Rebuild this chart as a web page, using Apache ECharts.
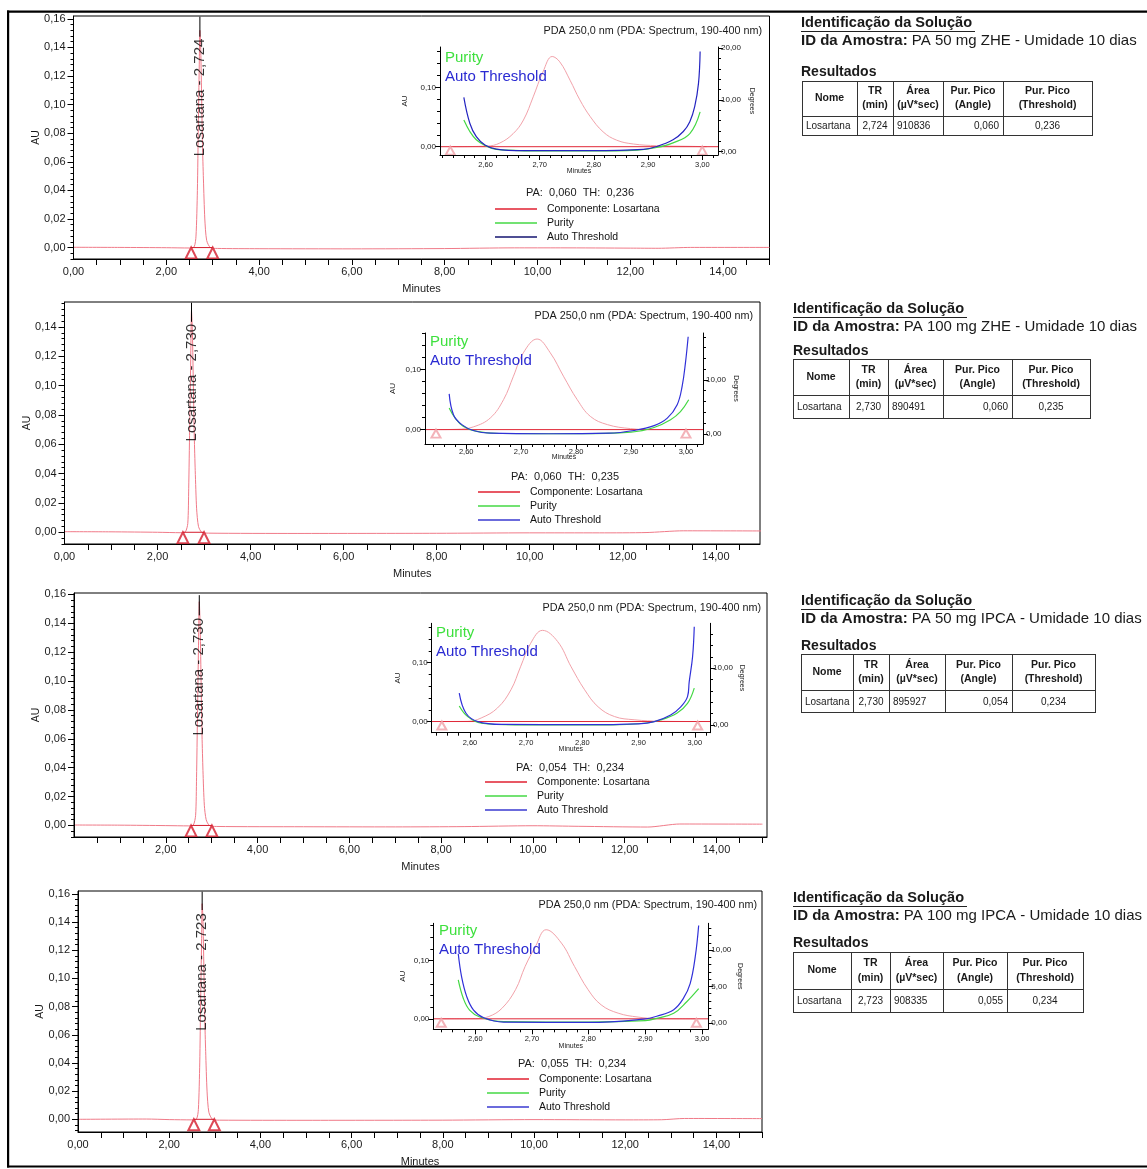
<!DOCTYPE html>
<html><head><meta charset="utf-8">
<script src="https://cdn.jsdelivr.net/npm/echarts@6/dist/echarts.min.js"></script>
<style>html,body{margin:0;padding:0;background:#fff}#c{width:1147px;height:1169px}</style>
</head><body><div id="c"></div>
<script>
// ================= DATA =================
const sampleIds = ['PA 50 mg ZHE - Umidade 10 dias', 'PA 100 mg ZHE - Umidade 10 dias', 'PA 50 mg IPCA - Umidade 10 dias', 'PA 100 mg IPCA - Umidade 10 dias'];
const compoundName = 'Losartana';
const retentionTimes = [2.724, 2.730, 2.730, 2.723];
const peakAreas = [910836, 890491, 895927, 908335];
const purityAngles = [0.060, 0.060, 0.054, 0.055];
const purityThresholds = [0.236, 0.235, 0.234, 0.234];
const integrationStart = [2.535, 2.545, 2.55, 2.54];
const integrationEnd = [3.00, 3.00, 3.005, 2.99];

const mainXLabelValues = [0, 2, 4, 6, 8, 10, 12, 14];
const mainYLabelValues = [0, 0.02, 0.04, 0.06, 0.08, 0.10, 0.12, 0.14, 0.16];
const insetXLabelValues = [2.6, 2.7, 2.8, 2.9, 3.0];
const insetAULabelValues = [0, 0.10];
const degLabelValues = [[0, 10, 20], [0, 10], [0, 10], [0, 5, 10]];
const tableHeaders = [['Nome'], ['TR', '(min)'], ['Área', '(µV*sec)'], ['Pur. Pico', '(Angle)'], ['Pur. Pico', '(Threshold)']];

// main chromatograms (minutes, AU)
const chrom1 = [[0,0.0002],[1.0,0.0001],[2.0,-0.0001],[2.5,-0.0003],[2.6,0.0005],[2.64,0.008],[2.67,0.04],[2.69,0.085],[2.71,0.127],[2.724,0.152],[2.74,0.142],[2.76,0.108],[2.78,0.072],[2.80,0.048],[2.83,0.02],[2.87,0.005],[2.95,0.0],[3.1,-0.0006],[4,-0.0008],[6,-0.0009],[8,-0.0007],[9.5,-0.0002],[10.5,-0.0002],[12,-0.0004],[12.6,-0.0005],[13.3,0.0001],[15,0.0001]];
const chrom2 = [[0,0.0004],[1,0.0003],[2,0.0],[2.5,-0.0003],[2.6,0.0004],[2.65,0.006],[2.67,0.03],[2.69,0.07],[2.71,0.11],[2.73,0.151],[2.75,0.135],[2.77,0.10],[2.79,0.065],[2.81,0.042],[2.84,0.016],[2.88,0.004],[2.95,0.0],[3.1,-0.0006],[5,-0.0008],[8,-0.0007],[10,-0.0004],[11.5,-0.0004],[12.5,-0.0002],[13.3,0.0010],[15,0.0009]];
const chrom3 = [[0,0.0003],[1,0.0002],[2,-0.0001],[2.5,-0.0003],[2.6,0.0003],[2.65,0.007],[2.67,0.033],[2.69,0.075],[2.71,0.118],[2.73,0.155],[2.75,0.136],[2.77,0.098],[2.79,0.062],[2.81,0.038],[2.84,0.014],[2.88,0.004],[2.95,0.0],[3.1,-0.0007],[5,-0.0009],[7,-0.001],[8.5,-0.0008],[10,-0.0002],[11,-0.0006],[12.5,-0.0011],[13.2,0.0010],[15,0.0009]];
const chrom4 = [[0,0.0],[1.5,0.0002],[2,-0.0002],[2.5,-0.0004],[2.6,0.0003],[2.64,0.007],[2.67,0.04],[2.69,0.085],[2.71,0.125],[2.723,0.153],[2.74,0.142],[2.76,0.108],[2.78,0.072],[2.80,0.048],[2.83,0.02],[2.87,0.005],[2.95,0.0],[3.1,-0.0006],[5,-0.0007],[8,-0.0006],[10,-0.0002],[12,-0.0004],[12.8,-0.0003],[13.3,0.0006],[15,0.0005]];

// inset: component peak (AU)
const insetPeak1 = [[2.54,0],[2.602,0.001],[2.626,0.006],[2.651,0.022],[2.670,0.045],[2.688,0.084],[2.706,0.126],[2.723,0.152],[2.737,0.143],[2.756,0.112],[2.774,0.079],[2.793,0.051],[2.817,0.025],[2.842,0.011],[2.873,0.0045],[2.916,0.0017],[2.977,0.0006],[3.008,0]];
const insetPeak2 = [[2.55,0],[2.583,0.0005],[2.613,0.0045],[2.644,0.0195],[2.668,0.05],[2.686,0.089],[2.704,0.128],[2.729,0.151],[2.753,0.128],[2.777,0.089],[2.802,0.05],[2.826,0.022],[2.857,0.0083],[2.899,0.0017],[2.942,0],[3.0,0]];
const insetPeak3 = [[2.55,0],[2.596,0.0003],[2.620,0.006],[2.649,0.023],[2.673,0.054],[2.690,0.093],[2.708,0.133],[2.729,0.155],[2.756,0.136],[2.780,0.093],[2.804,0.054],[2.828,0.025],[2.857,0.0085],[2.892,0.003],[2.94,0.0005],[3.0,0]];
const insetPeak4 = [[2.543,0],[2.60,0.0003],[2.624,0.004],[2.647,0.018],[2.671,0.05],[2.688,0.09],[2.706,0.124],[2.725,0.153],[2.752,0.13],[2.775,0.09],[2.799,0.05],[2.822,0.024],[2.852,0.0097],[2.887,0.003],[2.92,0.0005],[2.99,0]];

// inset: purity angle (degrees)
const purity1 = [[2.560,6.1],[2.571,3.9],[2.583,2.3],[2.599,1.2],[2.620,0.45],[2.700,0.15],[2.793,0.13],[2.880,0.3],[2.916,0.8],[2.946,1.7],[2.977,3.5],[2.996,7.7]];
const purity2 = [[2.569,4.8],[2.580,2.9],[2.595,1.35],[2.619,0.43],[2.66,0.05],[2.80,0.0],[2.90,0.3],[2.942,1.17],[2.972,2.6],[2.990,4.1],[3.005,6.3]];
const purity3 = [[2.581,3.35],[2.596,1.47],[2.620,0.3],[2.68,0.0],[2.85,0.0],[2.91,0.3],[2.939,0.88],[2.968,2.06],[2.987,3.8],[2.999,6.5]];
const purity4 = [[2.570,5.9],[2.579,3.35],[2.590,1.75],[2.608,0.8],[2.65,0.15],[2.80,0.1],[2.90,0.3],[2.920,0.6],[2.950,1.3],[2.973,2.9],[2.994,4.7]];

// inset: auto threshold (degrees)
const threshold1 = [[2.560,10.5],[2.571,5.5],[2.583,2.9],[2.599,1.3],[2.620,0.5],[2.670,0.2],[2.793,0.2],[2.891,0.45],[2.916,1.0],[2.946,2.3],[2.965,3.9],[2.977,5.8],[2.986,8.7],[2.993,13.2],[2.996,19.4]];
const threshold2 = [[2.569,7.4],[2.577,3.5],[2.592,1.7],[2.613,0.6],[2.644,0.1],[2.75,0.0],[2.86,0.1],[2.905,0.6],[2.942,1.5],[2.966,2.9],[2.984,5.4],[2.993,8.8],[2.999,13.1],[3.004,18.0]];
const threshold3 = [[2.581,5.6],[2.593,2.06],[2.614,0.6],[2.658,0.1],[2.80,0.05],[2.90,0.2],[2.928,0.6],[2.957,1.76],[2.975,3.2],[2.987,5.0],[2.990,7.6],[2.996,12.0],[2.999,17.3]];
const threshold4 = [[2.570,9.5],[2.576,6.3],[2.585,3.6],[2.597,1.75],[2.615,0.7],[2.65,0.1],[2.80,0.05],[2.897,0.5],[2.920,0.9],[2.950,1.8],[2.967,3.35],[2.979,5.4],[2.988,9.1],[2.994,13.4]];

const chroms = [chrom1, chrom2, chrom3, chrom4];
const insetPeaks = [insetPeak1, insetPeak2, insetPeak3, insetPeak4];
const purities = [purity1, purity2, purity3, purity4];
const thresholds = [threshold1, threshold2, threshold3, threshold4];

// ================= LAYOUT =================
const layout = [
 {main:{left:73.5,top:16,width:696,height:243,ymin:-0.008,ymax:0.162,xmax:15,showZero:true},
  peakLabel:{y:0.105,lineFrom:0.1475,lineTo:0.1615},
  inset:{left:440,top:47,width:278,height:108,xmin:2.516,xmax:3.029,aumin:-0.014,aumax:0.168,dmin:-0.65,dmax:20.25,degStep:2,auGap:31,degGap:30,xMargin:6,xNameGap:13},
  title:{x:762,y:31}, tag:{x:445,y1:58,y2:77}, pa:{x:580,y:193}, legend:{x:495,y:209},
  table:{x:801,identY:23,idY:41,resY:72,top:81,mid:116,bottom:135,cols:[802,857,893,943,1003,1092]},
  blue:'#2424c0', legendBlue:'#141470'},
 {main:{left:64.5,top:302,width:695.5,height:242,ymin:-0.008,ymax:0.157,xmax:14.95,showZero:true},
  peakLabel:{y:0.102,lineFrom:0.1435,lineTo:0.1565},
  inset:{left:425,top:333,width:278,height:111,xmin:2.525,xmax:3.031,aumin:-0.024,aumax:0.161,dmin:-1.9,dmax:18.7,degStep:2,auGap:28,degGap:29,xMargin:4,xNameGap:10},
  title:{x:753,y:316}, tag:{x:430,y1:342,y2:361}, pa:{x:565,y:477}, legend:{x:478,y:492},
  table:{x:793,identY:309,idY:327,resY:351,top:359,mid:395,bottom:418,cols:[793,849,888,943,1012,1090]},
  blue:'#3030d8', legendBlue:'#3a3ad0'},
 {main:{left:74,top:593,width:693,height:244,ymin:-0.008,ymax:0.161,xmax:15.1,showZero:false},
  peakLabel:{y:0.103,lineFrom:0.1455,lineTo:0.1595},
  inset:{left:431.7,top:623.3,width:278.3,height:109.4,xmin:2.532,xmax:3.027,aumin:-0.019,aumax:0.167,dmin:-1.36,dmax:17.9,degStep:2,auGap:30,degGap:28,xMargin:6,xNameGap:13},
  title:{x:761,y:608}, tag:{x:436,y1:633,y2:652}, pa:{x:570,y:768}, legend:{x:485,y:782},
  table:{x:801,identY:601,idY:619,resY:646,top:654,mid:690,bottom:712,cols:[801,853,889,945,1012,1095]},
  blue:'#3030d8', legendBlue:'#3a3ad0'},
 {main:{left:78,top:891,width:684,height:241,ymin:-0.009,ymax:0.162,xmax:15,showZero:true},
  peakLabel:{y:0.1045,lineFrom:0.1485,lineTo:0.1615},
  inset:{left:433.3,top:923.3,width:275,height:106,xmin:2.526,xmax:3.011,aumin:-0.018,aumax:0.164,dmin:-0.9,dmax:13.7,degStep:1,auGap:27,degGap:28,xMargin:6,xNameGap:13},
  title:{x:757,y:905}, tag:{x:439,y1:931,y2:950}, pa:{x:572,y:1064}, legend:{x:487,y:1079},
  table:{x:793,identY:898,idY:916,resY:943,top:952,mid:989,bottom:1012,cols:[793,851,890,943,1007,1083]},
  blue:'#3030d8', legendBlue:'#3a3ad0'}
];

const FONT = '"Liberation Sans", Arial, Helvetica, sans-serif';
const TXT = '#1a1a1a';
const comma = (v, d) => v.toFixed(d).replace('.', ',');
function steps(a, b, s) { const r = []; const n = Math.round((b - a) / s); for (let k = 0; k <= n; k++) r.push(+(a + k * s).toFixed(5)); return r; }
function within(arr, lo, hi) { return arr.filter(v => v >= lo - 1e-9 && v <= hi + 1e-9); }
function notIn(arr, ex) { return arr.filter(v => !ex.some(e => Math.abs(e - v) < 1e-7)); }

function axis(p) {
  return {
    type: 'value', gridIndex: p.grid, min: p.min, max: p.max, position: p.pos,
    splitLine: {show: false}, splitArea: {show: false},
    axisLine: {show: p.line !== false, onZero: false, lineStyle: {color: '#000', width: 1}},
    axisTick: p.ticks ? {show: true, inside: false, length: p.tickLen || 5, customValues: p.ticks, lineStyle: {color: '#000', width: 1}} : {show: false},
    axisLabel: p.labels ? {show: true, customValues: p.labels, formatter: p.fmt, fontSize: p.fs || 11, margin: p.margin || 7, color: TXT, fontFamily: FONT, showMinLabel: true, showMaxLabel: true, hideOverlap: false} : {show: false},
    name: p.name || '', nameLocation: 'middle', nameGap: p.nameGap || 20, nameRotate: p.nameRotate,
    nameMoveOverlap: false,
    nameTextStyle: {fontSize: p.nameSize || 11, color: TXT, fontFamily: FONT},
    silent: true, z: 5
  };
}

const option = {animation: false, backgroundColor: '#ffffff', grid: [], xAxis: [], yAxis: [], series: [], legend: [], graphic: []};
const G = option.graphic;
function text(x, y, t, st) { G.push({type: 'text', x: x, y: y, silent: true, z: 50, style: Object.assign({text: t, fill: TXT, fontFamily: FONT, fontSize: 11, align: 'left', verticalAlign: 'middle'}, st || {})}); }
function hline(x1, x2, y, w, c) { G.push({type: 'line', silent: true, z: 50, shape: {x1: x1, y1: y, x2: x2, y2: y}, style: {stroke: c || '#000', lineWidth: w || 1}}); }
function vline(x, y1, y2, w, c) { G.push({type: 'line', silent: true, z: 50, shape: {x1: x, y1: y1, x2: x, y2: y2}, style: {stroke: c || '#000', lineWidth: w || 1}}); }

for (let i = 0; i < 4; i++) {
  const L = layout[i], M = L.main, I = L.inset;
  const rt = retentionTimes[i];
  // ---------- grids ----------
  const gMain = option.grid.length;
  option.grid.push({left: M.left, top: M.top, width: M.width, height: M.height, show: true, borderColor: '#000', borderWidth: 1, backgroundColor: 'transparent', containLabel: false, outerBoundsMode: 'none'});
  const gIn = option.grid.length;
  option.grid.push({left: I.left, top: I.top, width: I.width, height: I.height, show: false, containLabel: false, outerBoundsMode: 'none'});

  // ---------- main axes ----------
  const xMain = option.xAxis.length;
  option.xAxis.push(axis({grid: gMain, min: 0, max: M.xmax, pos: 'bottom',
    ticks: within(steps(0, 15, 0.5), 0.01, M.xmax), tickLen: 6,
    labels: M.showZero ? mainXLabelValues : mainXLabelValues.filter(v => v > 0), fmt: v => comma(v, 2), fs: 11, margin: 7,
    name: 'Minutes', nameGap: 24, nameSize: 11}));
  const yMain = option.yAxis.length;
  const yLab = within(mainYLabelValues, M.ymin, M.ymax);
  option.yAxis.push(axis({grid: gMain, min: M.ymin, max: M.ymax, pos: 'left',
    ticks: yLab, tickLen: 6, labels: yLab, fmt: v => comma(v, 2), fs: 11, margin: 8,
    name: 'AU', nameGap: 32, nameSize: 10.5, nameRotate: 90}));
  option.yAxis.push(axis({grid: gMain, min: M.ymin, max: M.ymax, pos: 'left', line: false,
    ticks: notIn(within(steps(-0.008, 0.164, 0.004), M.ymin, M.ymax), yLab), tickLen: 3}));

  // ---------- inset axes ----------
  const xIn = option.xAxis.length;
  option.xAxis.push(axis({grid: gIn, min: I.xmin, max: I.xmax, pos: 'bottom',
    ticks: insetXLabelValues, tickLen: 5, labels: insetXLabelValues, fmt: v => comma(v, 2), fs: 7.5, margin: I.xMargin,
    name: 'Minutes', nameGap: I.xNameGap, nameSize: 7}));
  option.xAxis.push(axis({grid: gIn, min: I.xmin, max: I.xmax, pos: 'bottom', line: false,
    ticks: notIn(within(steps(2.50, 3.04, 0.02), I.xmin, I.xmax), insetXLabelValues), tickLen: 3}));
  const yAU = option.yAxis.length;
  option.yAxis.push(axis({grid: gIn, min: I.aumin, max: I.aumax, pos: 'left',
    ticks: insetAULabelValues, tickLen: 5, labels: insetAULabelValues, fmt: v => comma(v, 2), fs: 8, margin: 4,
    name: 'AU', nameGap: I.auGap, nameSize: 8, nameRotate: 90}));
  option.yAxis.push(axis({grid: gIn, min: I.aumin, max: I.aumax, pos: 'left', line: false,
    ticks: notIn(within(steps(0, 0.16, 0.02), I.aumin, I.aumax), insetAULabelValues), tickLen: 3}));
  const yDeg = option.yAxis.length;
  option.yAxis.push(axis({grid: gIn, min: I.dmin, max: I.dmax, pos: 'right',
    ticks: degLabelValues[i], tickLen: 5, labels: degLabelValues[i], fmt: v => comma(v, 2), fs: 8, margin: 3,
    name: 'Degrees', nameGap: I.degGap, nameSize: 7, nameRotate: -90}));
  option.yAxis.push(axis({grid: gIn, min: I.dmin, max: I.dmax, pos: 'right', line: false,
    ticks: notIn(within(steps(0, 20, I.degStep), I.dmin, I.dmax), degLabelValues[i]), tickLen: 3}));

  // ---------- main series ----------
  option.series.push({type: 'line', name: 'Cromatograma', xAxisIndex: xMain, yAxisIndex: yMain, data: chroms[i],
    symbol: 'none', showSymbol: false, smooth: 0.25, lineStyle: {color: '#f07a88', width: 1}, itemStyle: {color: '#f07a88'}, z: 2, silent: true});
  option.series.push({type: 'line', name: 'Integração', xAxisIndex: xMain, yAxisIndex: yMain,
    data: [[integrationStart[i], 0], [integrationEnd[i], 0]], symbol: 'none', lineStyle: {color: '#d41c2c', width: 1}, itemStyle: {color: '#d41c2c'}, z: 3, silent: true});
  option.series.push({type: 'scatter', name: 'Marcas', xAxisIndex: xMain, yAxisIndex: yMain,
    data: [[integrationStart[i], 0], [integrationEnd[i], 0]], symbol: 'emptyTriangle', symbolSize: [11, 11], symbolOffset: [0, 5.5],
    itemStyle: {color: '#d41c2c', borderColor: '#d41c2c', borderWidth: 0.8}, z: 3, silent: true});
  option.series.push({type: 'line', name: 'Marcador', xAxisIndex: xMain, yAxisIndex: yMain,
    data: [[rt, L.peakLabel.lineFrom], [rt, L.peakLabel.lineTo]], symbol: 'none', lineStyle: {color: '#000', width: 1}, z: 6, silent: true});
  option.series.push({type: 'scatter', name: 'Rótulo', xAxisIndex: xMain, yAxisIndex: yMain,
    data: [[rt, L.peakLabel.y]], symbolSize: 1, itemStyle: {color: 'rgba(0,0,0,0)'}, z: 7, silent: true,
    label: {show: true, position: 'inside', rotate: 90, formatter: compoundName + ' - ' + comma(rt, 3), fontSize: 15, color: '#000', fontFamily: FONT}});

  // ---------- inset series ----------
  option.series.push({type: 'line', name: 'Linha base', xAxisIndex: xIn, yAxisIndex: yAU,
    data: [[I.xmin, 0], [I.xmax, 0]], symbol: 'none', lineStyle: {color: '#e02838', width: 1}, z: 3, silent: true});
  option.series.push({type: 'scatter', name: 'Marcas inset', xAxisIndex: xIn, yAxisIndex: yAU,
    data: [[integrationStart[i], 0], [integrationEnd[i], 0]], symbol: 'emptyTriangle', symbolSize: [9, 8], symbolOffset: [0, 4],
    itemStyle: {color: '#f0a0a8', borderColor: '#f0a0a8', borderWidth: 0.8}, z: 3, silent: true});
  option.series.push({type: 'line', name: 'Componente: Losartana', xAxisIndex: xIn, yAxisIndex: yAU, data: insetPeaks[i],
    symbol: 'none', smooth: 0.4, lineStyle: {color: '#f2a2aa', width: 1}, itemStyle: {color: '#e02030'}, z: 2, silent: true});
  option.series.push({type: 'line', name: 'Purity', xAxisIndex: xIn, yAxisIndex: yDeg, data: purities[i],
    symbol: 'none', smooth: 0.4, lineStyle: {color: '#44d844', width: 1.2}, itemStyle: {color: '#44d844'}, z: 4, silent: true});
  option.series.push({type: 'line', name: 'Auto Threshold', xAxisIndex: xIn, yAxisIndex: yDeg, data: thresholds[i],
    symbol: 'none', smooth: 0.4, lineStyle: {color: L.blue, width: 1.2}, itemStyle: {color: L.blue}, z: 5, silent: true});

  // ---------- legend ----------
  option.legend.push({orient: 'vertical', left: L.legend.x, top: L.legend.y - 7, itemWidth: 42, itemHeight: 1.3, itemGap: 0,
    icon: 'rect', selectedMode: false, padding: 0,
    textStyle: {fontSize: 10.5, color: '#111', fontFamily: FONT, lineHeight: 14, padding: [0, 0, 0, 5]},
    data: [{name: 'Componente: Losartana', itemStyle: {color: '#e02030'}},
           {name: 'Purity', itemStyle: {color: '#44d844'}},
           {name: 'Auto Threshold', itemStyle: {color: L.legendBlue}}]});

  // ---------- inset texts ----------
  text(L.title.x, L.title.y, 'PDA 250,0 nm (PDA: Spectrum, 190-400 nm)', {align: 'right', fontSize: 10.8});
  text(L.tag.x, L.tag.y1, 'Purity', {fill: '#3ee03e', fontSize: 15});
  text(L.tag.x, L.tag.y2, 'Auto Threshold', {fill: '#2a2ad2', fontSize: 15});
  text(L.pa.x, L.pa.y, 'PA:  ' + comma(purityAngles[i], 3) + '  TH:  ' + comma(purityThresholds[i], 3), {align: 'center', fontSize: 11});

  // ---------- right-hand table ----------
  const T = L.table;
  text(T.x, T.identY, 'Identificação da Solução', {fontSize: 14.6, fontWeight: 'bold'});
  hline(T.x, T.x + 174, T.identY + 8.5, 1, '#222');
  text(T.x, T.idY, '{b|ID da Amostra:} ' + sampleIds[i], {fontSize: 15, rich: {b: {fontWeight: 'bold', fontSize: 15, fontFamily: FONT, fill: TXT}}});
  text(T.x, T.resY, 'Resultados', {fontSize: 14, fontWeight: 'bold'});
  const c = T.cols;
  hline(c[0], c[5], T.top + 0.5, 1, '#333');
  hline(c[0], c[5], T.mid + 0.5, 1, '#333');
  hline(c[0], c[5], T.bottom + 0.5, 1, '#333');
  for (let k = 0; k < c.length; k++) vline(c[k] + 0.5, T.top, T.bottom + 1, 1, '#333');
  const hy1 = T.top + (T.mid - T.top) * 0.3, hy2 = T.top + (T.mid - T.top) * 0.7, hyc = (T.top + T.mid) / 2;
  tableHeaders.forEach((h, k) => {
    const cx = (c[k] + c[k + 1]) / 2;
    if (h.length === 1) text(cx, hyc, h[0], {align: 'center', fontSize: 10.5, fontWeight: 'bold'});
    else { text(cx, hy1, h[0], {align: 'center', fontSize: 10.5, fontWeight: 'bold'}); text(cx, hy2, h[1], {align: 'center', fontSize: 10.5, fontWeight: 'bold'}); }
  });
  const dy = (T.mid + T.bottom) / 2 + 1;
  text(c[0] + 4, dy, compoundName, {fontSize: 10});
  text((c[1] + c[2]) / 2, dy, comma(rt, 3), {fontSize: 10, align: 'center'});
  text(c[2] + 4, dy, String(peakAreas[i]), {fontSize: 10});
  text(c[4] - 4, dy, comma(purityAngles[i], 3), {fontSize: 10, align: 'right'});
  text((c[4] + c[5]) / 2, dy, comma(purityThresholds[i], 3), {fontSize: 10, align: 'center'});
}

// outer page frame
G.push({type: 'rect', silent: true, z: 60, shape: {x: 7, y: 10.5, width: 1140, height: 2.3}, style: {fill: '#000'}});
G.push({type: 'rect', silent: true, z: 60, shape: {x: 7, y: 10.5, width: 2.2, height: 1157}, style: {fill: '#000'}});
G.push({type: 'rect', silent: true, z: 60, shape: {x: 7, y: 1165.5, width: 1140, height: 2}, style: {fill: '#000'}});

const chart = echarts.init(document.getElementById('c'), null, {renderer: 'canvas', width: 1147, height: 1169});
chart.setOption(option);
</script></body></html>
